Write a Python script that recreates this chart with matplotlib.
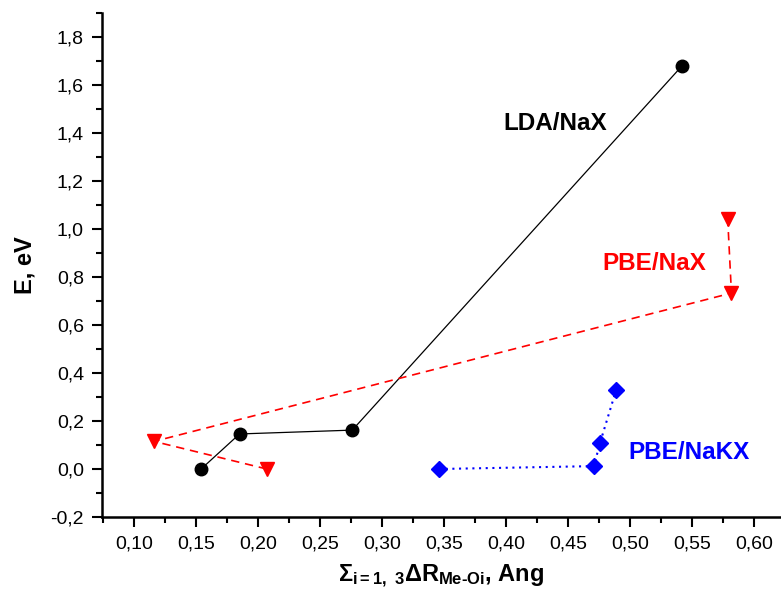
import matplotlib
matplotlib.use("Agg")
import matplotlib.pyplot as plt
from matplotlib.ticker import MultipleLocator, FuncFormatter

plt.rcParams['font.family'] = ['Liberation Sans', 'DejaVu Sans']
plt.rcParams['mathtext.fontset'] = 'custom'
plt.rcParams['mathtext.rm'] = 'Liberation Sans:bold'
plt.rcParams['mathtext.it'] = 'Liberation Sans:bold'
plt.rcParams['mathtext.bf'] = 'Liberation Sans:bold'
plt.rcParams['mathtext.sf'] = 'Liberation Sans:bold'

# Data
lda_x = [0.154, 0.185, 0.276, 0.542]
lda_y = [0.0, 0.146, 0.162, 1.679]
pbe_x = [0.207, 0.116, 0.582, 0.579]
pbe_y = [0.0, 0.115, 0.733, 1.04]
pbek_x = [0.346, 0.471, 0.476, 0.489]
pbek_y = [0.0, 0.012, 0.11, 0.33]

fig = plt.figure(figsize=(7.81, 5.98), dpi=100)
ax = fig.add_axes([102/781, (598-517)/598, (781-102)/781, (517-13)/598])

ax.plot(lda_x, lda_y, color='black', lw=0.9, marker='o', ms=9, mec='black', mfc='black')
ax.plot(pbe_x, pbe_y, color='red', lw=1.2, ls=(0, (5, 3.5)), marker='v', ms=10, mec='red', mfc='red')
ax.plot(pbek_x, pbek_y, color='blue', lw=1.5, ls=(0, (1, 2.2)), marker='D', ms=8.5, mec='blue', mfc='blue')

ax.text(0.440, 1.44, 'LDA/NaX', color='black', fontsize=17.5, fontweight='bold', ha='center', va='center')
ax.text(0.520, 0.855, 'PBE/NaX', color='red', fontsize=17.5, fontweight='bold', ha='center', va='center')
ax.text(0.548, 0.067, 'PBE/NaKX', color='blue', fontsize=17.5, fontweight='bold', ha='center', va='center')

ax.set_xlim(0.074, 0.622)
ax.set_ylim(-0.2, 1.9)

for s in ['top', 'right']:
    ax.spines[s].set_visible(False)
for s in ['left', 'bottom']:
    ax.spines[s].set_linewidth(1.8)

ax.xaxis.set_major_locator(MultipleLocator(0.05))
ax.xaxis.set_minor_locator(MultipleLocator(0.025))
ax.yaxis.set_major_locator(MultipleLocator(0.2))
ax.yaxis.set_minor_locator(MultipleLocator(0.1))
ax.xaxis.set_major_formatter(FuncFormatter(lambda v, p: f"{v:.2f}".replace('.', ',')))
ax.yaxis.set_major_formatter(FuncFormatter(lambda v, p: f"{v:.1f}".replace('.', ',').replace('-0,0', '0,0')))
ax.tick_params(which='major', direction='out', length=7, width=1.5, labelsize=14, pad=6)
ax.tick_params(which='minor', direction='out', length=4, width=1.5)

ax.set_ylabel('E, eV', fontsize=17, fontweight='bold', labelpad=10)
ax.set_xlabel(r'$\Sigma_{i=1,\ 3}\Delta R_{Me\text{-}Oi}$, Ang', fontsize=17, fontweight='bold', labelpad=8)

fig.savefig('out.png', dpi=100)
